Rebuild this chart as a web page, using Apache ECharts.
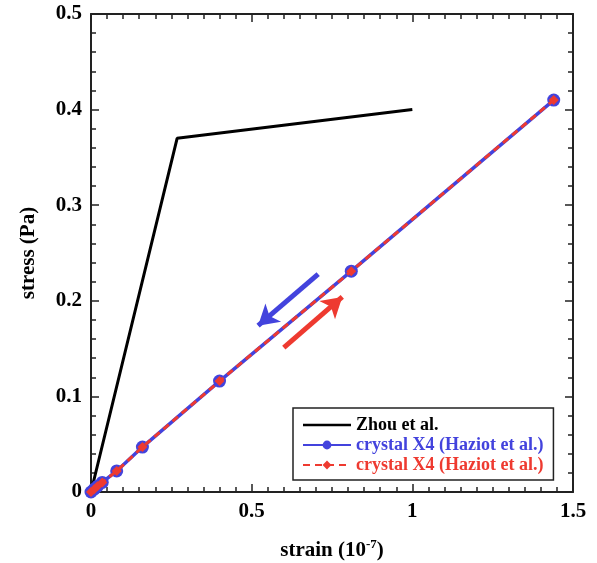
<!DOCTYPE html>
<html>
<head>
<meta charset="utf-8">
<script src="https://cdn.jsdelivr.net/npm/echarts@6/dist/echarts.min.js"></script>
<style>html,body{margin:0;padding:0;background:#fff}#c{width:597px;height:563px}</style>
</head>
<body>
<div id="c"></div>
<script>
// Data
var zhouData = [[0, 0], [0.268, 0.370], [1.0, 0.400]];
var haziotData = [[0, 0], [0.01, 0.003], [0.02, 0.006], [0.035, 0.010], [0.08, 0.022], [0.16, 0.047], [0.40, 0.116], [0.81, 0.231], [1.44, 0.410]];
var arrowBlue = [[0.707, 0.228], [0.52, 0.174]];
var arrowRed = [[0.60, 0.151], [0.782, 0.204]];
var seriesNames = ['Zhou et al.', 'crystal X4 (Haziot et al.)', 'crystal X4 (Haziot et al.)'];
var xTicks = ['0', '0.5', '1', '1.5'];
var yTicks = ['0', '0.1', '0.2', '0.3', '0.4', '0.5'];

var FONT = '"Liberation Serif", "DejaVu Serif", serif';
var BLUE = '#4343dd';
var RED = '#ee3a30';
var AX = '#222';

var chart = echarts.init(document.getElementById('c'), null, {renderer: 'canvas'});

function baseAxis(extra) {
  return Object.assign({
    axisLine: {show: true, onZero: false, lineStyle: {color: AX, width: 2}},
    axisTick: {show: true, inside: true, length: 8, lineStyle: {color: AX, width: 1.5}},
    minorTick: {show: true, length: 5, lineStyle: {color: AX, width: 1.5}},
    splitLine: {show: false}
  }, extra);
}

var option = {
  backgroundColor: '#fff',
  animation: false,
  grid: {left: 91, right: 24, top: 14, bottom: 71, containLabel: false, outerBoundsMode: 'none'},
  xAxis: [
    baseAxis({
      type: 'value', min: 0, max: 1.5, interval: 0.5, position: 'bottom',
      minorTick: {show: true, splitNumber: 10, length: 5, lineStyle: {color: AX, width: 1.5}},
      axisLabel: {color: '#000', fontFamily: FONT, fontWeight: 'bold', fontSize: 21, margin: 9,
        formatter: function (v) { return xTicks[Math.round(v / 0.5)]; }},
      name: 'strain (10{sup|-7})', nameLocation: 'middle', nameGap: 46,
      nameTextStyle: {color: '#000', fontFamily: FONT, fontWeight: 'bold', fontSize: 21,
        rich: {sup: {fontFamily: FONT, fontWeight: 'bold', fontSize: 13, verticalAlign: 'top', padding: [0, 0, 12, 0]}}}
    }),
    baseAxis({
      type: 'value', min: 0, max: 1.5, interval: 0.5, position: 'top',
      minorTick: {show: true, splitNumber: 10, length: 5, lineStyle: {color: AX, width: 1.5}},
      axisLabel: {show: false}
    })
  ],
  yAxis: [
    baseAxis({
      type: 'value', min: 0, max: 0.5, interval: 0.1, position: 'left',
      minorTick: {show: true, splitNumber: 5, length: 5, lineStyle: {color: AX, width: 1.5}},
      axisLabel: {color: '#000', fontFamily: FONT, fontWeight: 'bold', fontSize: 21, margin: 9,
        formatter: function (v) { return yTicks[Math.round(v / 0.1)]; }},
      name: 'stress (Pa)', nameLocation: 'middle', nameGap: 52, nameRotate: 90,
      nameTextStyle: {color: '#000', fontFamily: FONT, fontWeight: 'bold', fontSize: 21}
    }),
    baseAxis({
      type: 'value', min: 0, max: 0.5, interval: 0.1, position: 'right',
      minorTick: {show: true, splitNumber: 5, length: 5, lineStyle: {color: AX, width: 1.5}},
      axisLabel: {show: false}
    })
  ],
  legend: {
    orient: 'vertical',
    left: 293, top: 408, width: 265,
    padding: [8, 10, 6, 9],
    itemGap: 2,
    itemWidth: 48, itemHeight: 11,
    borderColor: '#222', borderWidth: 1.5,
    backgroundColor: '#fff',
    data: [
      {name: 's0', textStyle: {color: '#000'}, icon: 'path://M0,4.3 L48,4.3 L48,6.7 L0,6.7 Z'},
      {name: 's1', textStyle: {color: BLUE}},
      {name: 's2', textStyle: {color: RED}}
    ],
    formatter: function (n) { return seriesNames[+n.slice(1)]; },
    textStyle: {fontFamily: FONT, fontWeight: 'bold', fontSize: 18}
  },
  series: [
    {
      name: 's0', type: 'line', data: zhouData, showSymbol: false, symbol: 'none',
      lineStyle: {color: '#000', width: 3}, itemStyle: {color: '#000'}, z: 3
    },
    {
      name: 's1', type: 'line', data: haziotData, symbol: 'circle', symbolSize: 13,
      lineStyle: {color: BLUE, width: 3.5}, itemStyle: {color: BLUE}, z: 4,
      markLine: {
        silent: true, symbol: ['none', 'arrow'], symbolSize: [18, 20],
        label: {show: false},
        lineStyle: {color: BLUE, width: 5, type: 'solid'},
        data: [[{coord: arrowBlue[0]}, {coord: arrowBlue[1]}]]
      }
    },
    {
      name: 's2', type: 'line', data: haziotData, symbol: 'diamond', symbolSize: 10,
      lineStyle: {color: RED, width: 3, type: [7, 5]}, itemStyle: {color: RED}, z: 5,
      markLine: {
        silent: true, symbol: ['none', 'arrow'], symbolSize: [18, 20],
        label: {show: false},
        lineStyle: {color: RED, width: 5, type: 'solid'},
        data: [[{coord: arrowRed[0]}, {coord: arrowRed[1]}]]
      }
    }
  ]
};
chart.setOption(option);
</script>
</body>
</html>
